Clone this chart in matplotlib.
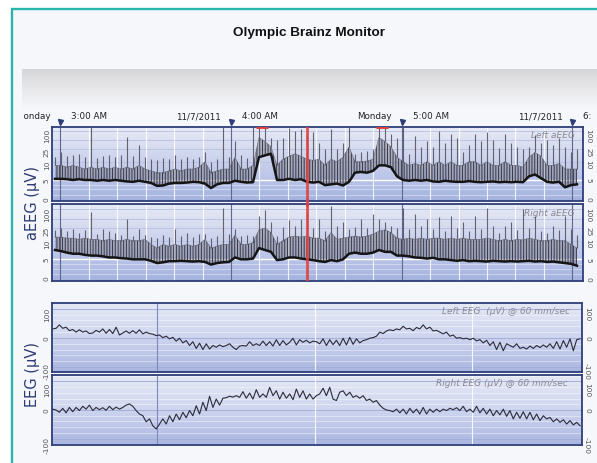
import numpy as np
import matplotlib
matplotlib.use("Agg")
import matplotlib.pyplot as plt
from matplotlib.colors import LinearSegmentedColormap
from matplotlib.patches import Rectangle
from matplotlib.ticker import NullLocator
from matplotlib.transforms import offset_copy

# ---------------- data ----------------
TITLE = "Olympic Brainz Monitor"
HOUR_TICKS = [3, 4, 5, 6]
HOUR_LABELS = ["3:00 AM", "4:00 AM", "5:00 AM", "6:00 AM"]
DATE_LABELS = ["Monday", "11/7/2011", "Monday", "11/7/2011"]
AEEG_TICKS = [0, 5, 10, 25, 100]
EEG_TICKS = [-100, 0, 100]
CURSOR_HOUR = 4.445

AEEG_START_H = 2.969
AEEG_STEP_H = 0.03515

LEFT_AEEG_LOW = [5.3, 5.3, 5.2, 5.0, 5.2, 5.0, 5.0, 4.8, 5.0, 4.8,
                 5.0, 4.8, 4.6, 4.5, 4.8, 4.5, 4.2, 3.4, 3.5, 4.0,
                 4.2, 4.2, 4.3, 4.5, 4.4, 4.0, 2.8, 3.8, 4.2, 4.2,
                 4.8, 4.5, 4.3, 4.4, 14, 16, 18, 5.0, 5.0, 5.3,
                 5.0, 5.2, 4.5, 4.3, 4.5, 3.6, 3.8, 4.0, 3.5, 4.5,
                 7.0, 7.2, 7.0, 7.5, 9.0, 9.0, 8.5, 6.0, 5.0, 4.8,
                 5.0, 4.8, 5.0, 4.6, 4.5, 4.8, 4.6, 4.5, 4.5, 4.7,
                 4.5, 4.4, 4.5, 4.6, 4.4, 4.5, 4.4, 4.5, 4.4, 6.0,
                 6.5, 5.5, 4.5, 4.3, 4.5, 3.0, 3.6, 3.8]
LEFT_AEEG_BODY = [9, 9, 8.5, 9, 8.5, 8, 8.5, 8, 8.5, 8,
                  8.5, 8, 8.5, 8, 9, 8, 7.5, 7, 7, 7.5,
                  8, 7.5, 8, 8, 8.5, 10, 7, 7.5, 8, 8,
                  14, 8, 8, 9, 60, 45, 30, 9, 12, 15,
                  18, 15, 12, 11, 12, 9, 12, 10, 14, 30,
                  10, 10, 10.5, 12, 60, 45, 30, 14, 10, 9,
                  9.5, 9, 10, 9, 10, 9, 10, 9, 9, 10,
                  10, 9, 10, 9, 9, 10, 9, 9, 8.5, 14,
                  20, 15, 9, 9, 9.5, 8, 8, 8]
LEFT_AEEG_PEAK = [14, 20, 15, 16, 18, 14, 130, 13, 15, 17,
                  14, 16, 62, 15, 34, 14, 12, 11, 13, 12,
                  17, 12, 14, 12, 14, 20, 10, 12, 130, 14,
                  45, 16, 13, 130, 134, 134, 60, 50, 60, 120,
                  100, 110, 80, 90, 40, 25, 110, 25, 40, 134,
                  18, 20, 22, 25, 134, 134, 80, 60, 130, 18,
                  70, 30, 45, 30, 95, 40, 80, 60, 20, 35,
                  80, 45, 90, 50, 28, 80, 40, 30, 25, 30,
                  75, 40, 50, 35, 60, 30, 20, 25]

RIGHT_AEEG_LOW = [7.5, 7.2, 6.8, 6.5, 6.5, 6.2, 6.0, 6.0, 5.8, 5.5,
                  5.5, 5.3, 5.2, 5.0, 5.0, 5.0, 4.6, 4.0, 4.2, 4.5,
                  4.5, 4.6, 4.5, 4.4, 4.5, 4.3, 3.6, 4.0, 4.2, 4.3,
                  5.5, 5.0, 5.0, 5.2, 8.0, 7.5, 7.0, 4.8, 5.0, 5.5,
                  5.5, 5.2, 5.0, 4.8, 4.5, 4.3, 4.8, 4.5, 5.0, 6.5,
                  6.8, 6.5, 6.5, 6.8, 7.5, 7.0, 7.0, 6.0, 6.0, 5.8,
                  5.5, 5.4, 5.2, 5.4, 5.0, 5.0, 4.8, 4.6, 4.8, 4.5,
                  4.6, 4.5, 4.4, 4.6, 4.5, 4.4, 4.5, 4.4, 4.5, 4.6,
                  4.4, 4.5, 4.3, 4.4, 4.2, 4.0, 3.8, 3.3]
RIGHT_AEEG_BODY = [13, 13, 12, 12, 11, 12, 11, 11, 10, 11,
                   10, 10, 11, 10, 10, 11, 9, 8, 9, 8.5,
                   9, 8.5, 9, 8.5, 9, 11, 8, 8.5, 9, 9,
                   15, 9, 9, 9.5, 22, 25, 18, 9, 10, 13,
                   14, 13, 14, 12, 12, 10, 18, 11, 12, 13,
                   14, 13, 14, 16, 20, 22, 18, 12, 11, 12,
                   11, 12, 11, 12, 12, 11, 12, 11, 12, 11,
                   11, 11, 12, 11, 10, 11, 10, 11, 10.5, 12,
                   11, 10, 10, 11, 10, 10, 9, 8]
RIGHT_AEEG_PEAK = [22, 25, 20, 24, 18, 22, 80, 16, 24, 20,
                   18, 15, 48, 14, 24, 15, 13, 12, 15, 13,
                   24, 14, 18, 13, 16, 16, 12, 14, 110, 16,
                   24, 14, 15, 14, 60, 90, 40, 14, 28, 45,
                   30, 48, 80, 25, 48, 20, 120, 30, 38, 24,
                   28, 48, 25, 70, 48, 40, 30, 25, 110, 24,
                   70, 30, 48, 24, 55, 20, 60, 25, 40, 20,
                   60, 24, 110, 30, 18, 30, 40, 22, 100, 25,
                   60, 20, 18, 30, 22, 60, 24, 15]

EEG_START_S = 0.341
EEG_STEP_S = 0.02115
LEFT_EEG = [31, 33, 45, 33, 37, 25, 29, 20, 28, 20,
            24, 15, 17, 26, 20, 31, 16, 29, 15, 37,
            10, 17, 24, 16, 25, 16, 28, 14, 20, 15,
            13, 8, 10, 1, 6, -3, 2, -11, -1, -17,
            -9, -26, -13, -36, -18, -40, -20, -38, -26, -32,
            -24, -30, -26, -20, -32, -40, -28, -26, -28, -13,
            -26, -20, -26, -11, -26, -13, -28, -6, -26, -9,
            -24, -15, -1, -24, -6, -15, -8, -17, -11, -13,
            -20, -3, -26, -6, -23, -8, -26, -1, -24, 2,
            -22, -3, -17, -9, -6, -1, 1, 6, 20, 15,
            24, 28, 25, 31, 28, 40, 31, 33, 25, 36,
            31, 45, 31, 37, 24, 26, 20, 14, 20, 6,
            10, -1, 1, -3, -1, -6, -1, -10, -6, -17,
            -8, -26, -13, -40, -15, -44, -20, -26, -32, -20,
            -36, -32, -38, -28, -36, -26, -33, -24, -32, -20,
            -36, -13, -38, -9, -32, -3, -44, -6, -3]
RIGHT_EEG = [3, 0, -8, 6, -10, 9, -6, 9, -2, 13,
             3, 17, -2, 9, 1, 8, -1, 13, 1, 10,
             3, 9, 17, 21, 13, -2, -14, -20, -41, -31,
             -55, -66, -49, -31, -49, -20, -41, -14, -34, -8,
             -27, -2, -20, 15, -14, 27, -2, 48, 9, 38,
             17, 41, 43, 48, 45, 50, 44, 64, 41, 59,
             38, 71, 44, 56, 44, 79, 50, 67, 38, 62,
             41, 56, 36, 73, 44, 67, 38, 56, 38, 50,
             56, 76, 50, 79, 38, 33, 62, 67, 50, 62,
             44, 50, 41, 50, 33, 38, 27, 33, 17, 6,
             0, -2, -6, 3, -10, 3, -14, 6, -10, 3,
             -14, 9, -14, 3, -8, 3, -6, 3, -2, 6,
             1, 8, -2, 13, -6, 3, -8, 13, -10, 6,
             -14, 3, -20, -2, -17, 3, -22, -2, -31, -8,
             -29, -6, -31, -8, -34, -14, -37, -20, -31, -26,
             -41, -31, -43, -34, -49, -37, -52, -43, -55]

# ---------------- layout helpers ----------------
plt.rcParams["hatch.linewidth"] = 0.7
W, H = 597, 464
fig = plt.figure(figsize=(W / 100, H / 100), dpi=100)
BG = "#f6f7fb"
fig.patch.set_facecolor(BG)
NAVY = "#2e3d7a"


def px_axes(x0, y0, x1, y1, **kw):
    return fig.add_axes([x0 / W, 1 - y1 / H, (x1 - x0) / W, (y1 - y0) / H], **kw)


def h_of_px(p):
    return 3 + (p - 60.3) / 170.7


def s_of_px(p):
    return 1 + (p - 156.7) / 157.8


def grad_bg(x0, y0, x1, y1, colors):
    bg = px_axes(x0, y0, x1, y1)
    cm = LinearSegmentedColormap.from_list("g", colors)
    bg.imshow(np.linspace(0, 1, 256).reshape(-1, 1), aspect="auto", cmap=cm,
              extent=[0, 1, 0, 1], origin="lower", interpolation="bilinear")
    bg.axis("off")
    return bg


# frame
frame = px_axes(0, 0, W, H)
frame.set_xlim(0, W)
frame.set_ylim(H, 0)
frame.axis("off")
frame.add_patch(Rectangle((0, 0), W, 9.5, color="white"))
frame.add_patch(Rectangle((0, 0), 11, H, color="white"))
frame.plot([11.8, 11.8], [9.5, H], color="#28b5ac", lw=1.7, solid_capstyle="butt")
frame.plot([11.0, W], [10.2, 10.2], color="#28b5ac", lw=1.7, solid_capstyle="butt")

# title
fig.text(309 / W, 1 - 33 / H, TITLE, ha="center", va="center", fontsize=9.7,
         fontweight="bold", family="Liberation Sans", color="#111111")

# grey band
band = px_axes(22, 70, W, 110)
band.imshow(np.linspace(0, 1, 100).reshape(-1, 1), aspect="auto",
            cmap=LinearSegmentedColormap.from_list("b", ["#d6d6d8", "#e8e8eb", BG]),
            extent=[0, 1, 0, 1], origin="upper")
band.axis("off")

# time header
hdr = px_axes(24, 108, 591, 127)
hdr.set_xlim(h_of_px(24), h_of_px(591))
hdr.set_ylim(0, 1)
hdr.axis("off")
for h, tl, dl in zip(HOUR_TICKS, HOUR_LABELS, DATE_LABELS):
    hdr.text(h + 0.064, 0.55, tl, ha="left", va="center", fontsize=6.3,
             color="#222222", clip_on=True)
    hdr.text(h - 0.058, 0.55, dl, ha="right", va="center", fontsize=6.3,
             color="#222222", clip_on=True)
hdr.plot(HOUR_TICKS, [0.2] * len(HOUR_TICKS), "v", color=NAVY, ms=3.6,
         clip_on=False)

# aEEG scale: linear 0-10, log 10-100
K = 1.18


def fwd(v):
    v = np.asarray(v, float)
    return np.where(v <= 10, K * v / 10, K + np.log10(np.maximum(v, 10) / 10))


def inv(u):
    u = np.asarray(u, float)
    return np.where(u <= K, u * 10 / K, 10 * 10 ** (np.minimum(u, 10) - K))


def style_spines(ax):
    for s in ax.spines.values():
        s.set_color(NAVY)
        s.set_linewidth(1.3)


def side_labels(ax, ticks, nudge=None):
    ax.set_yticks(ticks)
    ax.set_yticklabels([str(v) for v in ticks])
    ax.yaxis.set_minor_locator(NullLocator())
    ax.tick_params(axis="y", length=0, pad=1.5, labelsize=5.4, labelcolor="#555555",
                   left=True, right=True, labelleft=True, labelright=True)
    for v, tk in zip(ticks, ax.yaxis.get_major_ticks()):
        tk.label1.set_rotation(90)
        tk.label2.set_rotation(270)
        if nudge and v in nudge:
            for lab in (tk.label1, tk.label2):
                lab.set_transform(offset_copy(lab.get_transform(), fig=fig,
                                              x=0, y=nudge[v], units="points"))
    ax.set_xticks([])


def aeeg_panel(y0, y1, low, body, peak, label, ylim, clip_marks):
    grad_bg(52, y0, 583, y1, ["#a3b2de", "#b6c1e7", "#c8cfec", "#d8ddf0", "#e7eaf5"])
    ax = px_axes(52, y0, 583, y1)
    ax.set_facecolor("none")
    ax.set_yscale("function", functions=(fwd, inv))
    xl = (h_of_px(52), h_of_px(583))
    ax.set_xlim(*xl)
    ax.set_ylim(*ylim)
    for v in (100, 50, 25, 10):
        ax.axhline(v, color="#bcc4e4", lw=0.7, zorder=1)
    ax.axhline(5, color="white", lw=1.0, zorder=1)
    for v in (1.0, 2.5, 3.7):
        ax.axhline(v, color="white", lw=0.6, alpha=0.45, zorder=1)
    for k in range(0, 19):
        h = 3 + k / 6
        if xl[0] < h < xl[1]:
            if k % 6 == 0:
                ax.axvline(h, color="#5f6890", lw=0.8, zorder=1)
            else:
                ax.axvline(h, color="white", lw=0.8, alpha=0.85, zorder=1)
    ax.text(0.985, 0.895, label, transform=ax.transAxes, ha="right", va="center",
            fontsize=6.5, style="italic", color="#8a8a96", zorder=2)
    t = AEEG_START_H + AEEG_STEP_H * np.arange(len(low))
    low = np.array(low, float)
    body = np.array(body, float)
    peak = np.array(peak, float)
    ax.fill_between(t, low, body, facecolor=(0.38, 0.38, 0.44, 0.35),
                    edgecolor="#3a3a44", hatch="||||||", lw=0, zorder=3)
    ax.vlines(t, body, peak, color="#4d4d58", lw=0.8, alpha=0.85, zorder=3)
    ax.plot(t, body, color="#5a5a66", lw=0.5, alpha=0.7, zorder=3)
    ax.plot(t, low, color="#151515", lw=1.8, zorder=4)
    if clip_marks:
        for ti, b in zip(t, body):
            if b >= 45:
                ax.plot([ti - AEEG_STEP_H / 2, ti + AEEG_STEP_H / 2], [ylim[1] * 0.975] * 2,
                        color="#e0413d", lw=2.2, zorder=5, solid_capstyle="butt")
    ax.axvline(CURSOR_HOUR, color="#e4403c", lw=2.0, alpha=0.9, zorder=6)
    side_labels(ax, AEEG_TICKS)
    style_spines(ax)
    return ax


aeeg_panel(127.7, 201.7, LEFT_AEEG_LOW, LEFT_AEEG_BODY, LEFT_AEEG_PEAK,
           "Left aEEG", (-0.66, 134.6), True)
aeeg_panel(205, 281.7, RIGHT_AEEG_LOW, RIGHT_AEEG_BODY, RIGHT_AEEG_PEAK,
           "Right aEEG", (-0.72, 143.9), False)

# cursor through the gap between the two aEEG panels
frame.plot([52 + (CURSOR_HOUR - h_of_px(52)) * 170.7] * 2, [201, 206],
           color="#e4403c", lw=2.0, alpha=0.9, zorder=10)
frame.set_zorder(5)
frame.patch.set_visible(False)


def eeg_panel(y0, y1, values, label, ylim, lab_x, nudge):
    grad_bg(52, y0, 582, y1, ["#a8b5df", "#bcc6e8", "#ced5ee", "#dadff2", "#e5e9f5"])
    ax = px_axes(52, y0, 582, y1)
    ax.set_facecolor("none")
    ax.set_xlim(s_of_px(52), s_of_px(582))
    ax.set_ylim(*ylim)
    for v in range(-120, 121, 20):
        ax.axhline(v, color="white", lw=0.6, alpha=0.5, zorder=1)
    for v in (-100, 0, 100):
        ax.axhline(v, color="#a3aed8", lw=0.7, zorder=1)
    ax.axvline(1, color="#7d88bb", lw=0.8, zorder=1)
    for s in (2, 3):
        ax.axvline(s, color="white", lw=0.8, alpha=0.9, zorder=1)
    ax.text(lab_x, 0.895, label, transform=ax.transAxes, ha="right", va="center",
            fontsize=6.5, style="italic", color="#8a8a96", zorder=2)
    t = EEG_START_S + EEG_STEP_S * np.arange(len(values))
    ax.plot(t, values, color="#2b2b3b", lw=0.8, zorder=3)
    side_labels(ax, EEG_TICKS, nudge)
    style_spines(ax)
    return ax


eeg_panel(304, 373.3, LEFT_EEG, "Left EEG  (µV) @ 60 mm/sec", (-118, 120), 0.977,
          {-100: 2.0})
eeg_panel(376, 446, RIGHT_EEG, "Right EEG (µV) @ 60 mm/sec", (-122, 122), 0.973,
          {100: -2.0})

fig.text(33 / W, 1 - 203 / H, "aEEG (µV)", rotation=90, ha="center", va="center",
         fontsize=10.5, color="#2d3b73")
fig.text(32 / W, 1 - 375 / H, "EEG (µV)", rotation=90, ha="center", va="center",
         fontsize=10.5, color="#2d3b73")

fig.savefig("out.png", dpi=100, facecolor=fig.get_facecolor())
